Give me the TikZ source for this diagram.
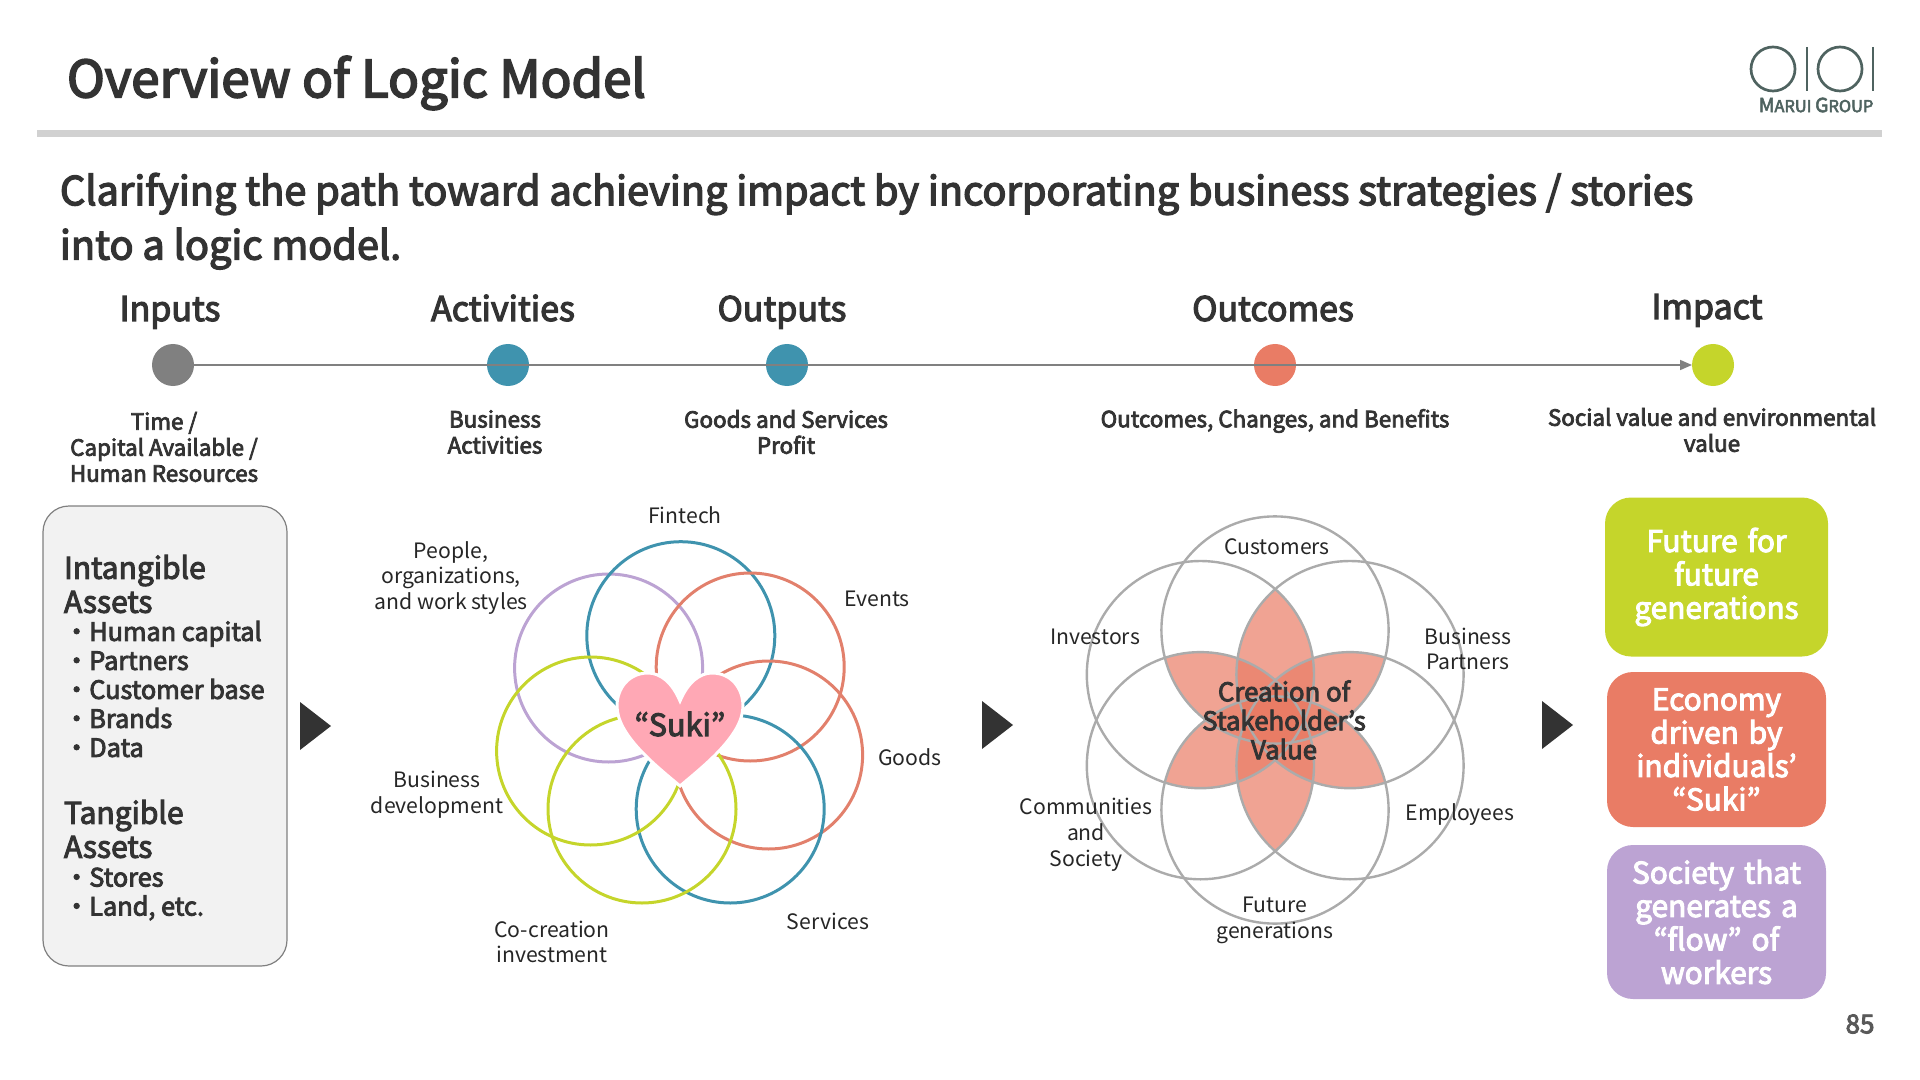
\documentclass[tikz,border=0pt]{standalone}
\usepackage{fontspec}
\setmainfont[RawFeature=+pwid]{Noto Sans CJK JP}
\newfontfamily\cjkb{Noto Sans CJK JP}
\usetikzlibrary{arrows.meta}
\newcommand{\fs}[2]{\fontsize{#1pt}{#2pt}\selectfont}
\newcommand{\fsm}[2]{\fontsize{#1pt}{#2pt}\selectfont\special{pdf:code 2 Tr \fpeval{0.034*#1} w}}
\newcommand{\bu}{{\cjkb ・}}
\definecolor{ink}{HTML}{333333}
\definecolor{teal}{HTML}{3F93AE}
\definecolor{salmon}{HTML}{E97C65}
\definecolor{ringsalmon}{HTML}{E2806C}
\definecolor{lime}{HTML}{C5D52B}
\definecolor{lilac}{HTML}{BCA3D3}
\definecolor{heart}{HTML}{FFA8B5}
\definecolor{ring}{HTML}{ABABAB}
\definecolor{logo}{HTML}{4F6360}
\tikzset{
 every node/.style={inner sep=0pt,outer sep=0pt,text=ink,align=center},
 head/.style={font=\fsm{17}{20},anchor=base},
 sub/.style={font=\fsm{11.2}{13}},
 lab/.style={font=\fs{10.6}{12.9},text=black!85},
 sidehead/.style={font=\fsm{15}{17}},
 sideitem/.style={font=\fsm{12.65}{14.5}},
 outbox/.style={rounded corners=13pt,text=white,font=\fsm{14.9}{16.7},text width=95pt},
 dot/.style={circle,minimum size=21pt},
 playtri/.style={fill=ink},
}
\begin{document}
\begin{tikzpicture}[x=0.5pt,y=-0.5pt]
\useasboundingbox (0,0) rectangle (1920,1080);
% header
\node[anchor=west,font=\fsm{25.5}{30}] (title) at (67,83) {Overview of Logic Model};
\fill[black!18] (37,130) rectangle (1882,137);
% logo
\draw[logo,line width=1.35pt] (1773,69) circle (22) (1840,69) circle (22);
\draw[logo,line width=1.35pt] (1807,47) -- (1807,91) (1873,47) -- (1873,91);
\node[font=\fsm{8.2}{10},text=logo] (brand) at (1816,105) {{\fontsize{9.7}{10}\selectfont M}ARUI {\fontsize{9.7}{10}\selectfont G}ROUP};
% subtitle
\node[anchor=north west,align=left,font=\fsm{19.85}{27.2}] (subtitle) at (60,173) {Clarifying the path toward achieving impact by incorporating business strategies / stories\\into a logic model.};
% timeline
\node[dot,fill=black!50] (d1) at (173,365) {};
\node[dot,fill=teal] (d2) at (508,365) {};
\node[dot,fill=teal] (d3) at (787,365) {};
\node[dot,fill=salmon] (d4) at (1275,365) {};
\node[dot,fill=lime] (d5) at (1713,365) {};
\draw[black!50,line width=0.8pt,-{Triangle[length=6pt,width=5pt]}] (d1) -- (d5);
\node[head] (h1) at (170,321) {Inputs};
\node[head] (h2) at (503,321) {Activities};
\node[head] (h3) at (782,321) {Outputs};
\node[head] (h4) at (1273,321) {Outcomes};
\node[head] (h5) at (1707,319) {Impact};
\node[sub] (s1) at (164,447) {Time /\\Capital Available /\\Human Resources};
\node[sub] (s2) at (495,432) {Business\\Activities};
\node[sub] (s3) at (786,432) {Goods and Services\\Profit};
\node[sub] (s4) at (1275,421) {Outcomes, Changes, and Benefits};
\node[sub] (s5) at (1712,430) {Social value and environmental\\value};
% assets
\draw[black!50,fill=black!5,line width=0.6pt,rounded corners=13pt] (43,506) rectangle (287,966);
\node[sidehead,anchor=west,align=left] (ia) at (64,584) {Intangible\\Assets};
\node[sideitem,anchor=west,align=left] (il) at (64,689) {\bu Human capital\\\bu Partners\\\bu Customer base\\\bu Brands\\\bu Data};
\node[sidehead,anchor=west,align=left] (ta) at (64,829) {Tangible\\Assets};
\node[sideitem,anchor=west,align=left] (tl) at (64,894) {\bu Stores\\\bu Land, etc.};
% triangles
\fill[playtri] (300,702) -- (300,750) -- (331,726) -- cycle;
\fill[playtri] (982,701) -- (982,749) -- (1013,725) -- cycle;
\fill[playtri] (1542,701) -- (1542,749) -- (1573,725) -- cycle;
% left flower
\begin{scope}[line width=1.5pt]
\draw[lilac] (608.6,668) circle (94);
\draw[teal] (680.8,635.7) circle (94);
\draw[ringsalmon] (750.2,667) circle (94);
\draw[ringsalmon] (768.6,755) circle (94);
\draw[teal] (730.2,809) circle (94);
\draw[lime] (642,809) circle (94);
\draw[lime] (590.6,751) circle (94);
\end{scope}
\fill[heart,draw=white,line width=1.5pt] (680,701)
 .. controls (688,682) and (700,673) .. (712,673)
 .. controls (731,673) and (743,688) .. (743,706)
 .. controls (743,735) and (705,765) .. (680,786)
 .. controls (655,765) and (617,735) .. (617,706)
 .. controls (617,688) and (629,673) .. (648,673)
 .. controls (660,673) and (672,682) .. (680,701) -- cycle;
\node[font=\fsm{15.3}{16}] (suki) at (680,724) {“Suki”};
\node[lab] (l1) at (685,515) {Fintech};
\node[lab] (l2) at (451,578) {People,\\organizations,\\and work styles};
\node[lab] (l3) at (877,599) {Events};
\node[lab] (l4) at (910,757) {Goods};
\node[lab] (l5) at (437,795) {Business\\development};
\node[lab] (l6) at (552,942) {Co-creation\\investment};
\node[lab] (l7) at (828,921) {Services};
% right flower
\def\R{113.6}
\foreach \ax/\ay/\bx/\by in {1200.4/674.6/1350/674.6, 1275/630/1350/765.7, 1350/674.6/1275/810, 1350/765.7/1200.4/765.7, 1275/810/1200.4/674.6, 1200.4/765.7/1275/630}{
 \begin{scope}
  \clip (\ax,\ay) circle (\R);
  \fill[salmon,fill opacity=0.7] (\bx,\by) circle (\R);
 \end{scope}
}
\foreach \cx/\cy in {1275/630,1350/674.6,1350/765.7,1275/810,1200.4/765.7,1200.4/674.6}{
 \draw[ring,line width=1.2pt] (\cx,\cy) circle (\R);
}
\node[font=\fsm{12.9}{14.5}] (core) at (1284,720) {Creation of\\Stakeholder’s\\Value};
\node[lab] (r1) at (1277,547) {Customers};
\node[lab] (r2) at (1095,637) {Investors};
\node[lab] (r3) at (1468,649) {Business\\Partners};
\node[lab] (r4) at (1086,835) {Communities\\and\\Society};
\node[lab] (r5) at (1460,815) {Employees};
\node[lab] (r6) at (1275,920) {Future\\generations};
% impact boxes
\node[outbox,fill=lime,minimum width=223pt*0.5,minimum height=159pt*0.5] (b1) at (1716.5,577) {\raisebox{-2.5pt}{\parbox{95pt}{\centering Future for\\future\\generations}}};
\node[outbox,fill=salmon,minimum width=219pt*0.5,minimum height=155pt*0.5] (b2) at (1716.5,749.5) {\raisebox{-1.2pt}{\parbox{95pt}{\centering Economy\\driven by\\individuals’\\“Suki”}}};
\node[outbox,fill=lilac,minimum width=219pt*0.5,minimum height=154pt*0.5] (b3) at (1716.5,922) {\raisebox{-0.6pt}{\parbox{95pt}{\centering Society that\\generates a\\“flow” of\\workers}}};
\node[font=\fsm{13}{15},text=black!65] (page) at (1860,1024) {85};
\end{tikzpicture}
\end{document}
